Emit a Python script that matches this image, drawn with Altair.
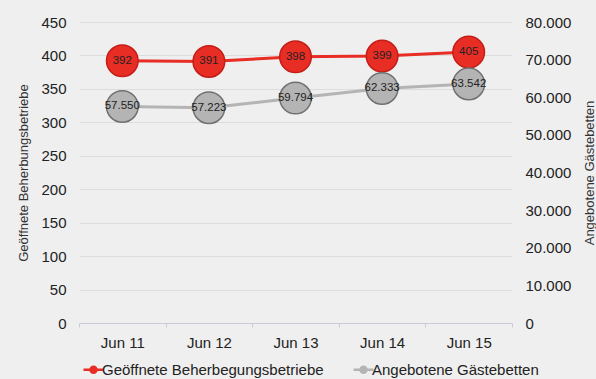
import altair as alt
import pandas as pd

months = ["Jun 11", "Jun 12", "Jun 13", "Jun 14", "Jun 15"]
betriebe = [392, 391, 398, 399, 405]
betten = [57550, 57223, 59794, 62333, 63542]
series_names = ["Geöffnete Beherbegungsbetriebe", "Angebotene Gästebetten"]


def de(v):
    return f"{v:,}".replace(",", ".")


red_df = pd.DataFrame({"month": months, "value": betriebe, "series": series_names[0],
                       "label": [str(v) for v in betriebe]})
gray_df = pd.DataFrame({"month": months, "value": betten, "series": series_names[1],
                        "label": [de(v) for v in betten]})

FONT = "Liberation Sans"

xenc = alt.X("month:N", sort=months,
             scale=alt.Scale(type="band", paddingInner=0, paddingOuter=0),
             axis=alt.Axis(title=None, labelAngle=0, tickBand="extent", grid=False,
                           domainColor="#c9ccd6", tickColor="#c9ccd6", tickSize=4,
                           labelPadding=8, labelFontSize=15, labelColor="#222222"))

color = alt.Color("series:N",
                  scale=alt.Scale(domain=series_names, range=["#e82d25", "#b4b4b4"]),
                  legend=alt.Legend(title=None, orient="none", direction="horizontal",
                                    legendX=0, legendY=336, columnPadding=24, labelLimit=400,
                                    symbolType="M-0.7,0H0M0.6,0H1.3M0,0A0.3,0.3,0,1,1,0.6,0A0.3,0.3,0,1,1,0,0Z",
                                    symbolSize=400, symbolStrokeWidth=2.5,
                                    labelFontSize=15, labelColor="#222222", labelOffset=0))

# red series (left axis)
yred = alt.Y("value:Q", scale=alt.Scale(domain=[0, 450]),
             axis=alt.Axis(title="Geöffnete Beherbungsbetriebe", orient="left", values=list(range(0, 451, 50)),
                           ticks=False, domain=False, grid=True, gridColor="#dcdcdc",
                           labelPadding=13, labelFontSize=15, labelColor="#222222",
                           titleFontSize=13, titleFontWeight="normal", titleColor="#333333", titlePadding=10))
red_base = alt.Chart(red_df).encode(x=xenc, y=yred)
red_line = red_base.mark_line(strokeWidth=3).encode(color=color)
red_pts = red_base.mark_point(filled=True, size=1000, stroke="#c21d17",
                               strokeWidth=1.5, opacity=1).encode(color=color)
red_txt = red_base.mark_text(fontSize=11.5, color="#222222", font=FONT).encode(text="label:N")
red_layer = alt.layer(red_line, red_pts, red_txt)

# gray series (right axis)
ygray = alt.Y("value:Q", scale=alt.Scale(domain=[0, 80000]),
              axis=alt.Axis(title="Angebotene Gästebetten", orient="right", values=list(range(0, 80001, 10000)),
                            labelExpr="replace(format(datum.value, ','), ',', '.')",
                            ticks=False, domain=False, grid=False, titleAngle=270,
                            labelPadding=13, labelFontSize=15, labelColor="#222222",
                            titleFontSize=13, titleFontWeight="normal", titleColor="#333333", titlePadding=26))
gray_base = alt.Chart(gray_df).encode(x=xenc, y=ygray)
gray_line = gray_base.mark_line(strokeWidth=3).encode(color=color)
gray_pts = gray_base.mark_point(filled=True, size=1000, stroke="#707070",
                                strokeWidth=1.5, opacity=1).encode(color=color)
gray_txt = gray_base.mark_text(fontSize=11.5, color="#222222", font=FONT).encode(text="label:N")
gray_layer = alt.layer(gray_line, gray_pts, gray_txt)

chart = alt.layer(red_layer, gray_layer).resolve_scale(y="independent").properties(
    width=433, height=301,
    autosize=alt.AutoSizeParams(type="none"),
    padding={"left": 79, "top": 22, "right": 84, "bottom": 56},
    background="#efefef",
).configure(font=FONT).configure_view(stroke=None)

chart.save("out.html", embed_options={"renderer": "svg", "actions": False})
